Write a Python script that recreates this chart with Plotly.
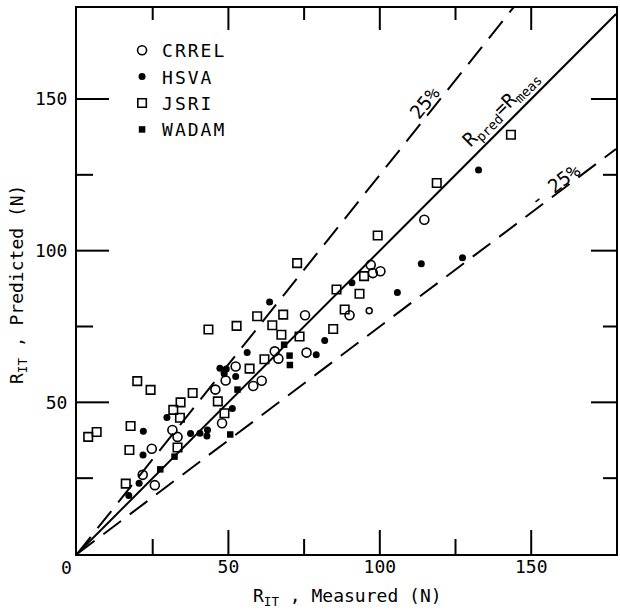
import plotly.graph_objects as go

# ---------------- data ----------------
crrel_x = [21.7, 25.7, 24.7, 31.5, 33.2, 45.7, 47.9, 49.1, 52.4, 58.2, 61.0, 65.3, 66.5,
           75.3, 75.8, 90.0, 97.0, 97.7, 100.2, 114.7]
crrel_y = [26.1, 22.7, 34.7, 40.9, 38.6, 54.2, 43.1, 57.2, 61.8, 55.4, 57.1, 66.8, 64.4,
           78.7, 66.4, 78.7, 95.3, 92.6, 93.2, 110.2]
crrel_small_x = [96.5]
crrel_small_y = [80.2]

hsva_x = [17.1, 20.5, 21.8, 21.9, 29.7, 37.5, 40.6, 43.1, 42.9, 47.2, 49.3, 48.6, 51.3,
          52.4, 56.2, 63.6, 79.0, 81.8, 90.8, 105.8, 113.7, 127.3, 132.6]
hsva_y = [19.3, 23.3, 32.6, 40.5, 45.0, 39.7, 39.8, 40.9, 38.9, 61.2, 61.0, 59.4, 48.0,
          58.5, 66.4, 83.1, 65.7, 70.4, 89.4, 86.2, 95.7, 97.7, 126.6]

jsri_x = [3.7, 6.5, 16.1, 17.3, 17.7, 19.9, 24.3, 31.8, 33.2, 34.0, 34.2, 38.2, 43.4, 46.5,
          48.7, 52.7, 57.0, 59.5, 61.9, 64.5, 67.5, 68.1, 72.7, 73.5, 84.6, 85.7, 88.4,
          93.3, 94.8, 99.3, 118.8, 143.3]
jsri_y = [38.6, 40.2, 23.2, 34.3, 42.2, 57.0, 54.1, 47.5, 35.1, 44.9, 50.0, 53.1, 74.0, 50.3,
          46.4, 75.2, 61.1, 78.4, 64.2, 75.4, 72.3, 78.9, 95.9, 71.7, 74.2, 87.2, 80.6,
          85.8, 91.6, 105.0, 122.3, 138.2]

wadam_x = [27.5, 32.2, 50.6, 53.0, 68.4, 70.2, 70.3]
wadam_y = [27.9, 32.1, 39.4, 54.2, 69.0, 65.4, 62.3]

line_ratios = [1.0, 1.25, 0.75]
x_max = 178
y_max = 180
tick_major = [50, 100, 150]
tick_minor = [25, 75, 125]

FONT = "DejaVu Sans Mono"
BLACK = "black"

# figure geometry (px)
FIG_W, FIG_H = 620, 614
M_L, M_R, M_T, M_B = 77, 4, 8, 60
PX_X = (FIG_W - M_L - M_R) / x_max   # px per x unit
PX_Y = (FIG_H - M_T - M_B) / y_max   # px per y unit


def spaced(text, px=2):
    return '<span style="letter-spacing:%dpx">%s</span>' % (px, text)


fig = go.Figure()

# reference lines
for r in line_ratios:
    fig.add_trace(go.Scatter(
        x=[0, x_max], y=[0, x_max * r], mode="lines",
        line=dict(color=BLACK, width=2,
                  dash="solid" if r == 1.0 else "22px,11px"),
        showlegend=False, hoverinfo="skip"))

# inward tick marks on all four sides, one short segment per tick
for vals, (b_len, t_len, l_len, r_len) in ((tick_major, (24, 22, 32, 25)),
                                           (tick_minor, (15, 12, 16, 13))):
    for v in vals:
        segs = [([v, v], [0, b_len / PX_Y]),
                ([v, v], [y_max, y_max - t_len / PX_Y]),
                ([0, l_len / PX_X], [v, v]),
                ([x_max, x_max - r_len / PX_X], [v, v])]
        for sx, sy in segs:
            fig.add_trace(go.Scatter(x=sx, y=sy, mode="lines",
                                     line=dict(color=BLACK, width=2),
                                     showlegend=False, hoverinfo="skip"))

fig.add_trace(go.Scatter(
    x=crrel_x, y=crrel_y, mode="markers", name=spaced("CRREL"),
    marker=dict(symbol="circle-open", size=9, color=BLACK, line=dict(width=1.6))))
fig.add_trace(go.Scatter(
    x=hsva_x, y=hsva_y, mode="markers", name=spaced("HSVA"),
    marker=dict(symbol="circle", size=7, color=BLACK)))
fig.add_trace(go.Scatter(
    x=jsri_x, y=jsri_y, mode="markers", name=spaced("JSRI"),
    marker=dict(symbol="square-open", size=8.5, color=BLACK, line=dict(width=1.6))))
fig.add_trace(go.Scatter(
    x=wadam_x, y=wadam_y, mode="markers", name=spaced("WADAM"),
    marker=dict(symbol="square", size=6.5, color=BLACK)))
fig.add_trace(go.Scatter(
    x=crrel_small_x, y=crrel_small_y, mode="markers", showlegend=False,
    marker=dict(symbol="circle-open", size=6, color=BLACK, line=dict(width=1.5))))

main = dict(
    showgrid=False, zeroline=False, showline=True, mirror=True,
    linecolor=BLACK, linewidth=2, automargin=False, ticks="",
    tickmode="array", tickvals=tick_major, ticktext=[str(v) for v in tick_major],
    tickfont=dict(family=FONT, size=18, color=BLACK),
)

fig.update_layout(
    width=FIG_W, height=FIG_H,
    margin=dict(l=M_L, r=M_R, t=M_T, b=M_B, autoexpand=False),
    plot_bgcolor="white", paper_bgcolor="white",
    xaxis=dict(range=[0, x_max], ticklabelstandoff=-5, **main),
    yaxis=dict(range=[0, y_max], ticklabelstandoff=4, **main),
    legend=dict(x=0.0836, y=0.956, xanchor="left", yanchor="top",
                bgcolor="rgba(0,0,0,0)", borderwidth=0,
                font=dict(family=FONT, size=18, color=BLACK),
                tracegroupgap=0),
    showlegend=True,
)

ann_font = dict(family=FONT, size=18, color=BLACK)
fig.add_annotation(x=-0.0204, y=-0.0256, xref="paper", yref="paper", text="0",
                   xanchor="center", yanchor="middle", showarrow=False, font=ann_font)
fig.add_annotation(x=(347.5 - M_L) / 539, y=(554 - 597) / 546, xref="paper", yref="paper",
                   xanchor="center", yanchor="middle",
                   text="R<sub>IT</sub> , Measured (N)", showarrow=False, font=ann_font)
fig.add_annotation(x=(18 - M_L) / 539, y=(554 - 285) / 546, xref="paper", yref="paper",
                   xanchor="center", yanchor="middle", textangle=-90,
                   text="R<sub>IT</sub> , Predicted (N)", showarrow=False, font=ann_font)

line_font = dict(family=FONT, size=19, color=BLACK)
fig.add_annotation(x=114.9, y=149, text="25%", showarrow=False, textangle=-51,
                   font=line_font)
fig.add_annotation(x=140, y=146.7, text="R<sub>pred</sub>=R<sub>meas</sub>",
                   showarrow=False, textangle=-45, font=line_font)
fig.add_annotation(x=157.8, y=121.6, text="- 25%", showarrow=False, textangle=-37,
                   font=line_font)

fig.write_html("out.html", config={"displayModeBar": False},
               post_script="document.body.style.margin='0';document.body.style.overflow='hidden';")
